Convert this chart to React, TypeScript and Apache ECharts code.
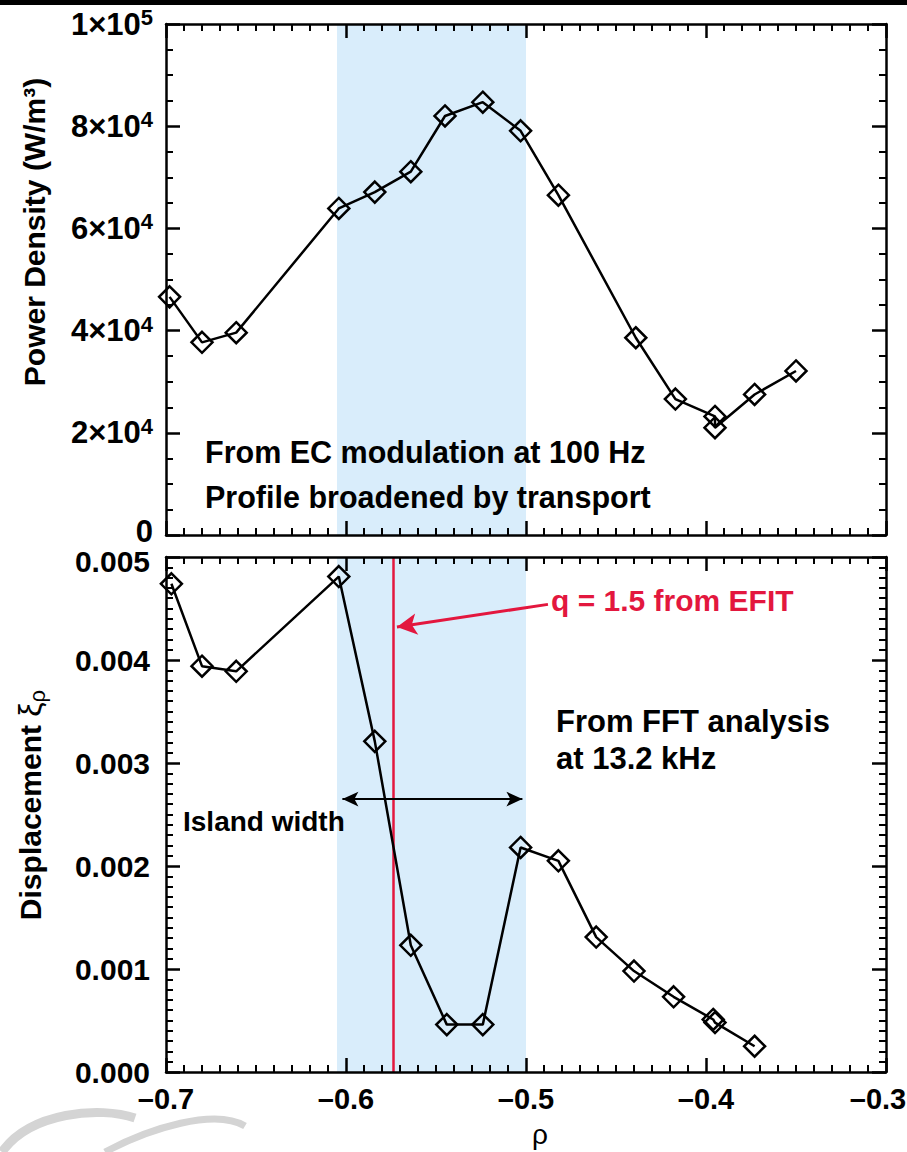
import React, { useEffect, useRef } from "react";
import * as echarts from "echarts";

// ---- data ----
const rhoTop = [-0.698, -0.68, -0.661, -0.604, -0.584, -0.564, -0.545, -0.524, -0.503, -0.482, -0.439, -0.417, -0.395, -0.395, -0.373, -0.35];
const powerDensity = [46600, 37700, 39600, 63900, 67100, 71100, 82000, 84700, 79100, 66500, 38600, 26600, 23200, 21000, 27500, 32100];
const rhoBottom = [-0.697, -0.68, -0.661, -0.604, -0.584, -0.564, -0.544, -0.524, -0.503, -0.482, -0.461, -0.44, -0.418, -0.396, -0.395, -0.373];
const displacement = [0.00474, 0.00394, 0.00389, 0.00481, 0.00321, 0.00123, 0.00046, 0.00046, 0.00218, 0.00205, 0.00131, 0.00098, 0.00073, 0.00051, 0.00048, 0.00025];
const islandBand = [-0.605, -0.5];
const q15Rho = -0.574;
const islandArrow = [[-0.602, 0.00265], [-0.502, 0.00265]];
const qArrow = [[-0.4878, 0.00454], [-0.5717, 0.00432]];
const xRange = [-0.7, -0.3, 0.1];
const topYRange = [0, 100000, 20000];
const bottomYRange = [0, 0.005, 0.001];

const SANS = "'Liberation Sans', Arial, sans-serif";
const RED = "#e3173e";
const BAND = "#d9edfb";

function makeAxis(gridIndex: number, position: string, min: number, max: number, interval: number, minorSplit: number, label: any) {
  return {
    type: "value",
    gridIndex,
    position,
    min,
    max,
    interval,
    z: 10,
    axisLine: { show: true, onZero: false, lineStyle: { color: "#000", width: 2.5 } },
    axisTick: { show: true, inside: true, length: 14, lineStyle: { color: "#000", width: 2.5 } },
    minorTick: { show: true, splitNumber: minorSplit, length: 7, lineStyle: { color: "#000", width: 2 } },
    splitLine: { show: false },
    minorSplitLine: { show: false },
    axisLabel: label || { show: false },
  };
}

export default function App() {
  const ref = useRef<HTMLDivElement>(null);
  useEffect(() => {
    if (!ref.current) return;
    const chart = echarts.init(ref.current, null, { renderer: "svg" });
    const xLabel = {
      show: true,
      margin: 12,
      color: "#000",
      fontFamily: SANS,
      fontWeight: "bold",
      fontSize: 29,
      formatter: (v: number) => {
        const s = (v < -1e-9 ? "–" : "") + Math.abs(v).toFixed(1);
        return Math.abs(v - xRange[1]) < 1e-9 ? `{last|${s}}` : s;
      },
      rich: {
        last: { fontSize: 29, fontFamily: SANS, fontWeight: "bold", color: "#000", padding: [0, 16, 0, 0] },
      },
    };
    const topYLabel = {
      show: true,
      margin: 13,
      color: "#000",
      fontFamily: SANS,
      fontWeight: "bold",
      fontSize: 31,
      formatter: (v: number) => {
        if (v === 0) return "{zero|0}";
        const e = Math.floor(Math.log10(v) + 1e-9);
        const m = Math.round(v / Math.pow(10, e));
        return `${m}×10{sup|${e}}`;
      },
      rich: {
        sup: { fontSize: 22, fontFamily: SANS, fontWeight: "bold", color: "#000", verticalAlign: "bottom", padding: [0, 0, 13, 0] },
        zero: { fontSize: 31, fontFamily: SANS, fontWeight: "bold", color: "#000", padding: [0, 0, 8, 0] },
      },
    };
    const botYLabel = {
      show: true,
      margin: 16,
      color: "#000",
      fontFamily: SANS,
      fontWeight: "bold",
      fontSize: 30,
      formatter: (v: number) => (Math.abs(v - 0.005) < 1e-9 ? `{top|${v.toFixed(3)}}` : v.toFixed(3)),
      rich: {
        top: { fontSize: 30, fontFamily: SANS, fontWeight: "bold", color: "#000", padding: [8, 0, 0, 0] },
      },
    };
    const lineData = (xs: number[], ys: number[]) => xs.map((x, i) => [x, ys[i]]);
    const series = (xi: number, yi: number, data: number[][], extra: any) => ({
      type: "line",
      xAxisIndex: xi,
      yAxisIndex: yi,
      data,
      symbol: "diamond",
      symbolSize: 21,
      showAllSymbol: true,
      lineStyle: { color: "#000", width: 2.5 },
      itemStyle: { color: "rgba(0,0,0,0)", borderColor: "#000", borderWidth: 2.5 },
      z: 5,
      ...extra,
    });
    const txt = (x: number, y: number, text: string, size: number, fill = "#000", weight = "bold", align = "left") => ({
      type: "text",
      x,
      y,
      z: 100,
      style: { text, fill, font: `${weight} ${size}px ${SANS}`, align, verticalAlign: "middle" },
    });
    const option: any = {
      animation: false,
      backgroundColor: "#fff",
      grid: [
        { left: 166, top: 24, width: 720, height: 511, outerBoundsMode: "none", containLabel: false },
        { left: 166, top: 557, width: 720, height: 515, outerBoundsMode: "none", containLabel: false },
      ],
      xAxis: [
        makeAxis(0, "bottom", xRange[0], xRange[1], xRange[2], 10, null),
        makeAxis(0, "top", xRange[0], xRange[1], xRange[2], 10, null),
        makeAxis(1, "bottom", xRange[0], xRange[1], xRange[2], 10, xLabel),
        makeAxis(1, "top", xRange[0], xRange[1], xRange[2], 10, null),
      ],
      yAxis: [
        makeAxis(0, "left", topYRange[0], topYRange[1], topYRange[2], 4, topYLabel),
        makeAxis(0, "right", topYRange[0], topYRange[1], topYRange[2], 4, null),
        makeAxis(1, "left", bottomYRange[0], bottomYRange[1], bottomYRange[2], 10, botYLabel),
        makeAxis(1, "right", bottomYRange[0], bottomYRange[1], bottomYRange[2], 10, null),
      ],
      series: [
        series(0, 0, lineData(rhoTop, powerDensity), {
          markArea: {
            silent: true,
            itemStyle: { color: BAND },
            data: [[{ xAxis: islandBand[0] }, { xAxis: islandBand[1] }]],
          },
        }),
        series(2, 2, lineData(rhoBottom, displacement), {
          markArea: {
            silent: true,
            itemStyle: { color: BAND },
            data: [[{ xAxis: islandBand[0] }, { xAxis: islandBand[1] }]],
          },
          markLine: {
            silent: true,
            precision: 6,
            label: { show: false },
            symbol: "none",
            data: [
              { xAxis: q15Rho, lineStyle: { color: RED, width: 2.5, type: "solid" }, symbol: "none" },
              [
                { coord: islandArrow[0], symbol: "arrow", symbolSize: [11, 16], lineStyle: { color: "#000", width: 2, type: "solid" } },
                { coord: islandArrow[1], symbol: "arrow", symbolSize: [11, 16], lineStyle: { color: "#000", width: 2, type: "solid" } },
              ],
              [
                { coord: qArrow[0], symbol: "none", lineStyle: { color: RED, width: 3, type: "solid" } },
                { coord: qArrow[1], symbol: "arrow", symbolSize: [16, 20], lineStyle: { color: RED, width: 3, type: "solid" } },
              ],
            ],
          },
        }),
      ],
      graphic: [
        { type: "rect", left: 0, top: 0, z: 100, shape: { width: 907, height: 5 }, style: { fill: "#000" } },
        {
          type: "bezierCurve",
          z: 1,
          shape: { x1: 2, y1: 1152, x2: 135, y2: 1118, cpx1: 30, cpy1: 1112, cpx2: 100, cpy2: 1106 },
          style: { stroke: "#d4d4d4", lineWidth: 9, fill: "none" },
        },
        {
          type: "bezierCurve",
          z: 1,
          shape: { x1: 105, y1: 1152, x2: 245, y2: 1126, cpx1: 150, cpy1: 1128, cpx2: 215, cpy2: 1108 },
          style: { stroke: "#d4d4d4", lineWidth: 7, fill: "none" },
        },
        txt(205, 452, "From EC modulation at 100 Hz", 30.5),
        txt(205, 497, "Profile broadened by transport", 30.5),
        txt(556, 721, "From FFT analysis", 31),
        txt(556, 758, "at 13.2 kHz", 31),
        txt(183, 821, "Island width", 28),
        txt(551, 600, "q = 1.5 from EFIT", 30, RED),
        txt(540, 1134, "ρ", 28, "#000", "normal", "center"),
        {
          type: "text",
          x: 34,
          y: 232,
          z: 100,
          rotation: Math.PI / 2,
          style: { text: "Power Density (W/m³)", fill: "#000", font: `bold 30px ${SANS}`, align: "center", verticalAlign: "middle" },
        },
        {
          type: "text",
          x: 30,
          y: 805,
          z: 100,
          rotation: Math.PI / 2,
          style: {
            text: "Displacement {xi|ξ}{sub|ρ}",
            fill: "#000",
            font: `bold 30px ${SANS}`,
            align: "center",
            verticalAlign: "middle",
            rich: {
              xi: { fontSize: 32, fontFamily: SANS, fontWeight: "normal", fill: "#000" },
              sub: { fontSize: 22, fontFamily: SANS, fontWeight: "normal", fill: "#000", verticalAlign: "top", padding: [14, 0, 0, 0] },
            },
          },
        },
      ],
    };
    chart.setOption(option);
    return () => chart.dispose();
  }, []);
  return <div ref={ref} style={{ position: "fixed", left: 0, top: 0, width: 907, height: 1152 }} />;
}
